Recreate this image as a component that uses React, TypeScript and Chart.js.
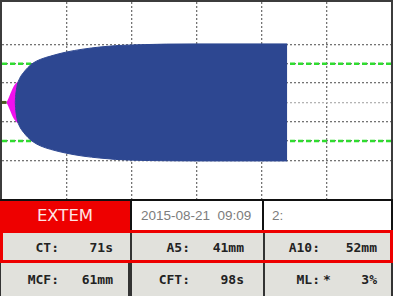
import React, { useEffect, useRef } from "react";
import { Chart, registerables } from "chart.js";

Chart.register(...registerables);

// Clot firmness envelope (time in minutes, half amplitude in mm)
const timeMin = [2.05, 2.1, 2.2, 2.35, 2.7, 3.3, 4.0, 4.8, 6.0, 7.5, 9.8, 12.5, 15.1, 17.5, 20.2, 25.4, 30, 44];
const upperMm = [0, 3.2, 6.0, 9.0, 12.3, 15.4, 18.1, 20.4, 22.4, 24.0, 26.0, 27.6, 28.7, 29.4, 29.8, 30.2, 30.3, 30.3];
const lowerMm = [0, -3.2, -6.0, -9.0, -12.3, -15.4, -18.1, -20.4, -22.6, -24.3, -26.2, -27.8, -28.8, -29.5, -29.9, -30.2, -30.3, -30.3];

// Coagulation-start (pink) segment
const pinkTime = [0.7, 1.1, 1.5, 1.85, 2.2, 2.5];
const pinkUpper = [0, 3.0, 6.2, 8.6, 10.0, 11.0];
const pinkLower = [0, -3.0, -6.2, -8.6, -10.0, -11.0];

// Flat baseline before CT
const baseTime = [0, 0.7];
const baseValue = [0, 0];

// Reference amplitude lines (green dashed)
const targetLevels = [20, -20];

// Grid
const xGridTicks = [0, 10, 20, 30, 40, 50, 60];
const yGridTicks = [-30, -20, -10, 0, 10, 20, 30];

// Table texts
const headerTexts = ["EXTEM", "2015-08-21  09:09", "2:"];
const paramLabels = [["CT:", "A5:", "A10:"], ["MCF:", "CFT:", "ML:"]];
const paramValues = [["71s", "41mm", "52mm"], ["61mm", "98s", "3%"]];
const paramFlags = [["", "", ""], ["", "", "*"]];

const BLUE = "#2d4791";
const PINK = "#f010ee";
const GREEN = "#2fdc2f";
const OLIVE = "#4a5a22";

export default function App() {
  const ref = useRef<HTMLCanvasElement>(null);

  useEffect(() => {
    if (!ref.current) return;
    const pts = (xs: number[], ys: number[]) => xs.map((x, i) => ({ x, y: ys[i] }));
    const datasets: any[] = [
      {
        data: pts(timeMin, upperMm),
        borderColor: BLUE,
        backgroundColor: BLUE,
        borderWidth: 1,
        fill: "+1",
        pointRadius: 0,
        cubicInterpolationMode: "monotone",
        order: 1,
      },
      {
        data: pts(timeMin, lowerMm),
        borderColor: BLUE,
        backgroundColor: BLUE,
        borderWidth: 1,
        fill: false,
        pointRadius: 0,
        cubicInterpolationMode: "monotone",
        order: 1,
      },
      {
        data: pts(pinkTime, pinkUpper),
        borderColor: PINK,
        backgroundColor: PINK,
        borderWidth: 0,
        fill: "+1",
        pointRadius: 0,
        cubicInterpolationMode: "monotone",
        order: 2,
      },
      {
        data: pts(pinkTime, pinkLower),
        borderColor: PINK,
        backgroundColor: PINK,
        borderWidth: 0,
        fill: false,
        pointRadius: 0,
        cubicInterpolationMode: "monotone",
        order: 2,
      },
      {
        data: pts(baseTime, baseValue),
        borderColor: OLIVE,
        borderWidth: 3,
        fill: false,
        pointRadius: 0,
        order: 3,
      },
      ...targetLevels.map((lv) => ({
        data: [
          { x: xGridTicks[0], y: lv },
          { x: xGridTicks[xGridTicks.length - 1], y: lv },
        ],
        borderColor: GREEN,
        borderWidth: 2.5,
        borderDash: [5, 3],
        fill: false,
        pointRadius: 0,
        order: 5,
      })),
    ];

    const chart = new Chart(ref.current, {
      type: "line",
      data: { datasets },
      options: {
        animation: false,
        responsive: false,
        events: [],
        layout: { padding: 0 },
        plugins: { legend: { display: false }, tooltip: { enabled: false } },
        scales: {
          x: {
            type: "linear",
            min: xGridTicks[0],
            max: xGridTicks[xGridTicks.length - 1],
            afterBuildTicks: (s: any) => {
              s.ticks = xGridTicks.map((v) => ({ value: v }));
            },
            ticks: { display: false },
            grid: {
              drawTicks: false,
              lineWidth: 1.3,
              color: (c: any) =>
                c.tick && (c.tick.value === xGridTicks[0] || c.tick.value === xGridTicks[xGridTicks.length - 1])
                  ? "rgba(0,0,0,0)"
                  : "#747474",
            },
            border: { display: false, dash: [2, 2] },
          },
          y: {
            type: "linear",
            min: -50,
            max: 52,
            afterBuildTicks: (s: any) => {
              s.ticks = yGridTicks.map((v) => ({ value: v }));
            },
            ticks: { display: false },
            grid: {
              drawTicks: false,
              lineWidth: 1.3,
              color: (c: any) => (c.tick && c.tick.value === 0 ? "#b4b4b4" : "#747474"),
            },
            border: { display: false, dash: [2, 2] },
          },
        },
      } as any,
    });
    return () => chart.destroy();
  }, []);

  const mono: React.CSSProperties = {
    fontFamily: "'DejaVu Sans Mono', monospace",
    fontWeight: "bold",
    fontSize: 13,
    color: "#222",
    whiteSpace: "pre",
  };
  const rowTops = [233, 263];
  const rowHeights = [28, 33];
  const labelRights = [59, 190, 320];
  const valueRights = [113, 244, 377];

  const abs = (s: React.CSSProperties): React.CSSProperties => ({ position: "absolute", ...s });

  return (
    <div style={abs({ left: 0, top: 0, width: 395, height: 296, background: "#fff", overflow: "hidden" })}>
      {/* plot */}
      <div
        style={abs({
          left: 0,
          top: 0,
          width: 393,
          height: 201,
          border: "2px solid #3c3c3c",
          boxSizing: "border-box",
        })}
      >
        <canvas ref={ref} width={389} height={197} style={{ display: "block" }} />
      </div>

      {/* header row */}
      <div style={abs({ left: 0, top: 199, width: 393, height: 32, background: "#111" })} />
      <div style={abs({ left: 0, top: 201, width: 130, height: 30, background: "#ee0000" })} />
      <div style={abs({ left: 132, top: 201, width: 130, height: 29, background: "#fff" })} />
      <div style={abs({ left: 264, top: 201, width: 127, height: 29, background: "#fff" })} />
      <div
        style={abs({
          left: 0,
          top: 201,
          width: 130,
          height: 29,
          display: "flex",
          alignItems: "center",
          justifyContent: "center",
          fontFamily: "'DejaVu Sans', sans-serif",
          fontSize: 16.5,
          color: "#ffe4e4",
        })}
      >
        {headerTexts[0]}
      </div>
      {[141, 272].map((lx, i) => (
        <div
          key={i}
          style={abs({
            left: lx,
            top: 201,
            height: 29,
            display: "flex",
            alignItems: "center",
            fontFamily: "'Liberation Sans', sans-serif",
            fontSize: 13.5,
            color: "#7c7c7c",
            whiteSpace: "pre",
          })}
        >
          {headerTexts[i + 1]}
        </div>
      ))}

      {/* parameter rows */}
      <div style={abs({ left: 0, top: 263, width: 393, height: 33, background: "#333" })} />
      {[0, 1].map((r) =>
        [
          [r === 0 ? 3 : 1, 127],
          [132, 131],
          [265, r === 0 ? 125 : 126],
        ].map(([l, w], c) => (
          <div
            key={`bg${r}${c}`}
            style={abs({
              left: l,
              top: rowTops[r],
              width: w,
              height: rowHeights[r],
              background: "#e1e1dc",
            })}
          />
        ))
      )}
      <div style={abs({ left: 130, top: 233, width: 2, height: 28, background: "#333" })} />
      <div style={abs({ left: 263, top: 233, width: 2, height: 28, background: "#333" })} />
      <div
        style={abs({
          left: 0,
          top: 230,
          width: 393,
          height: 33,
          border: "3px solid #ee0000",
          boxSizing: "border-box",
        })}
      />
      {[0, 1].map((r) =>
        [0, 1, 2].map((c) => (
          <React.Fragment key={`t${r}${c}`}>
            <div
              style={abs({
                ...mono,
                left: labelRights[c] - 60,
                width: 60,
                top: rowTops[r],
                height: rowHeights[r],
                display: "flex",
                alignItems: "center",
                justifyContent: "flex-end",
              })}
            >
              {paramLabels[r][c]}
            </div>
            {paramFlags[r][c] ? (
              <div
                style={abs({
                  ...mono,
                  left: labelRights[c] + 3,
                  top: rowTops[r],
                  height: rowHeights[r],
                  display: "flex",
                  alignItems: "center",
                })}
              >
                {paramFlags[r][c]}
              </div>
            ) : null}
            <div
              style={abs({
                ...mono,
                left: valueRights[c] - 60,
                width: 60,
                top: rowTops[r],
                height: rowHeights[r],
                display: "flex",
                alignItems: "center",
                justifyContent: "flex-end",
              })}
            >
              {paramValues[r][c]}
            </div>
          </React.Fragment>
        ))
      )}
    </div>
  );
}
